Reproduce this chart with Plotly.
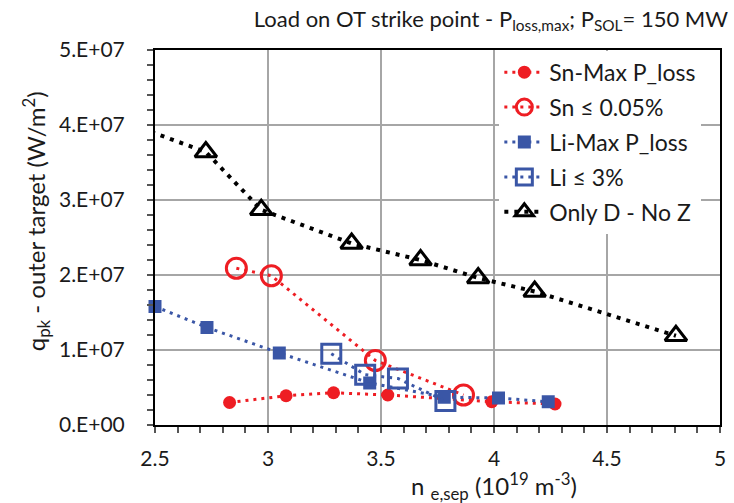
import plotly.graph_objects as go

# Separatrix density (1e19 m^-3) and peak heat load on the outer target (W/m^2)
sn_max_x = [2.83, 3.08, 3.29, 3.53, 3.99, 4.27]
sn_max_y = [3.0e6, 3.9e6, 4.3e6, 4.0e6, 3.1e6, 2.8e6]

sn_lim_x = [2.86, 3.015, 3.475, 3.865]
sn_lim_y = [2.09e7, 1.99e7, 8.6e6, 4.0e6]

li_max_x = [2.5, 2.73, 3.05, 3.45, 3.78, 4.02, 4.24]
li_max_y = [1.58e7, 1.30e7, 9.6e6, 5.6e6, 3.7e6, 3.6e6, 3.1e6]

li_lim_x = [3.28, 3.43, 3.575, 3.785]
li_lim_y = [9.5e6, 6.7e6, 6.2e6, 3.2e6]

d_only_x = [2.4, 2.725, 2.97, 3.37, 3.675, 3.93, 4.18, 4.805]
d_only_y = [4.0e7, 3.64e7, 2.87e7, 2.42e7, 2.20e7, 1.96e7, 1.78e7, 1.19e7]

x_ticks = [2.5, 3, 3.5, 4, 4.5, 5]
x_tick_text = ["2.5", "3", "3.5", "4", "4.5", "5"]
y_ticks = [0, 1e7, 2e7, 3e7, 4e7, 5e7]
y_tick_text = ["0.E+00", "1.E+07", "2.E+07", "3.E+07", "4.E+07", "5.E+07"]

RED = "#EE1D23"
BLUE = "#3A56A6"
FONT = "Lato"
TXT = "#1a1a1a"

fig = go.Figure()

fig.add_trace(go.Scatter(
    x=sn_max_x, y=sn_max_y, name="Sn-Max P_loss", mode="lines+markers",
    legendgroup="a",
    line=dict(color=RED, width=3, dash="3px,5px"),
    marker=dict(symbol="circle", size=13, color=RED),
))
fig.add_trace(go.Scatter(
    x=sn_lim_x, y=sn_lim_y, name="Sn \u2264 0.05%", mode="lines+markers",
    legendgroup="b",
    line=dict(color=RED, width=3, dash="3px,5px"),
    marker=dict(symbol="circle-open", size=20, color=RED, line=dict(width=3, color=RED)),
))
fig.add_trace(go.Scatter(
    x=li_max_x, y=li_max_y, name="Li-Max P_loss", mode="lines+markers",
    legendgroup="c", cliponaxis=False,
    line=dict(color=BLUE, width=3, dash="3px,5px"),
    marker=dict(symbol="square", size=13, color=BLUE),
))
fig.add_trace(go.Scatter(
    x=li_lim_x, y=li_lim_y, name="Li \u2264 3%", mode="lines+markers",
    legendgroup="d",
    line=dict(color=BLUE, width=3, dash="3px,5px"),
    marker=dict(symbol="square-open", size=19, color=BLUE, line=dict(width=3, color=BLUE)),
))
fig.add_trace(go.Scatter(
    x=d_only_x, y=d_only_y, name="Only D - No Z", mode="lines+markers",
    legendgroup="e",
    line=dict(color="black", width=4, dash="4px,6px"),
    marker=dict(symbol="triangle-up-open", size=19, color="black", line=dict(width=3, color="black")),
))

axis_common = dict(
    showline=True, linecolor="black", linewidth=2, mirror=True,
    showgrid=True, gridcolor="#A6A6A6", gridwidth=1.5,
    ticks="outside", ticklen=6, tickwidth=1.5, tickcolor="#555555",
    zeroline=False,
    tickfont=dict(family=FONT, size=21, color=TXT),
)

fig.update_xaxes(
    range=[2.5, 5], tickvals=x_ticks, ticktext=x_tick_text,
    ticklabelstandoff=8,
    minor=dict(dtick=0.1, ticks="outside", ticklen=6, tickcolor="#555555", showgrid=False),
    **axis_common,
)
fig.update_yaxes(
    range=[0, 5e7], tickvals=y_ticks, ticktext=y_tick_text,
    ticklabelstandoff=18,
    minor=dict(dtick=2e6, ticks="outside", ticklen=6, tickcolor="#555555", showgrid=False),
    **axis_common,
)

fig.update_layout(
    width=734, height=503,
    margin=dict(l=155, r=8, t=50, b=78),
    paper_bgcolor="white", plot_bgcolor="white",
    font=dict(family=FONT, color=TXT),
    title=dict(
        text="Load on OT strike point - P<sub>loss,max</sub>; P<sub>SOL</sub>= 150 MW",
        xref="container", yref="container",
        x=728 / 734, xanchor="right", y=1 - 19 / 503, yanchor="middle",
        font=dict(family=FONT, size=22, color=TXT),
    ),
    legend=dict(
        x=(503 - 155) / 571, y=0.998, xanchor="left", yanchor="top",
        bgcolor="white", borderwidth=0, itemwidth=40,
        font=dict(family=FONT, size=23, color=TXT),
        traceorder="grouped", tracegroupgap=2,
    ),
    annotations=[
        dict(
            text="q<sub>pk</sub> - outer target (W/m<sup>2</sup>)",
            xref="paper", yref="paper",
            x=(35 - 155) / 571, y=(425 - 221) / 375,
            xanchor="center", yanchor="middle", textangle=-90, showarrow=False,
            font=dict(family=FONT, size=24, color=TXT),
        ),
        dict(
            text="n <sub>e,sep</sub> (10<sup>19</sup> m<sup>-3</sup>)",
            xref="paper", yref="paper",
            x=(498 - 155) / 571, y=-(486 - 425) / 375,
            xanchor="center", yanchor="middle", showarrow=False,
            font=dict(family=FONT, size=24, color=TXT),
        ),
    ],
)

fig.write_html("out.html")
